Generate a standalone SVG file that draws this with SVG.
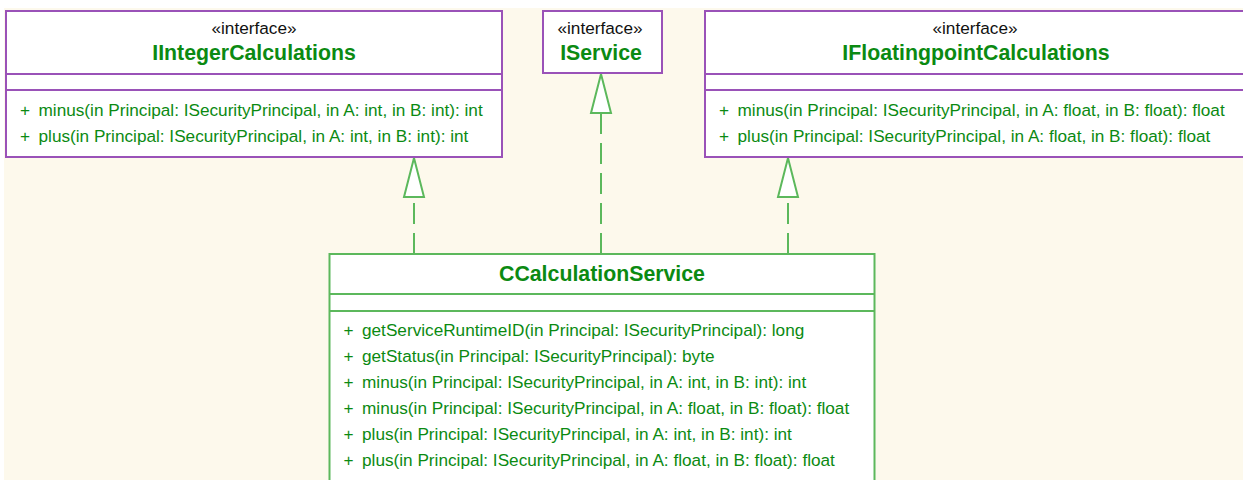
<svg xmlns="http://www.w3.org/2000/svg" width="1243" height="480" viewBox="0 0 1243 480">
  <style>
    .iface { fill: #ffffff; stroke: #9a52b8; stroke-width: 2; }
    .iface-line { stroke: #9a52b8; stroke-width: 2; }
    .cls { fill: #ffffff; stroke: #5cb85c; stroke-width: 2; }
    .cls-line { stroke: #5cb85c; stroke-width: 2; }
    .stereo { font-family: "Liberation Sans", Arial, sans-serif; font-size: 17.2px; fill: #111111; text-anchor: middle; }
    .title { font-family: "Liberation Sans", Arial, sans-serif; font-size: 21.3px; font-weight: bold; fill: #0b8a12; text-anchor: middle; }
    .op { font-family: "Liberation Sans", Arial, sans-serif; font-size: 17.2px; fill: #0b8a12; }
    .realize { fill: none; stroke: #5cb85c; stroke-width: 2; stroke-dasharray: 21 9; }
    .head { fill: #ffffff; stroke: #5cb85c; stroke-width: 2; stroke-linejoin: miter; }
  </style>

  <!-- canvas -->
  <rect x="0" y="0" width="1243" height="480" fill="#ffffff"/>
  <rect x="4" y="8" width="1239" height="472" fill="#fdf9ec"/>

  <!-- realization connectors (dashed, hollow triangle heads) -->
  <g id="connectors">
    <path class="realize" d="M414 254 V197"/>
    <polygon class="head" points="414,158 404,197 424,197"/>
    <path class="realize" d="M601 254 V113"/>
    <polygon class="head" points="601,74 591,113 611,113"/>
    <path class="realize" d="M788 254 V197"/>
    <polygon class="head" points="788,158 778,197 798,197"/>
  </g>

  <g id="IIntegerCalculations">
    <rect class="iface" x="6" y="11" width="496" height="146"/>
    <line class="iface-line" x1="6" y1="74" x2="502" y2="74"/>
    <line class="iface-line" x1="6" y1="90" x2="502" y2="90"/>
    <text class="stereo" x="254" y="34">«interface»</text>
    <text class="title" x="254" y="60">IIntegerCalculations</text>
    <text class="op" x="20" y="116">+</text>
    <text class="op" x="38.5" y="116">minus(in Principal: ISecurityPrincipal, in A: int, in B: int): int</text>
    <text class="op" x="20" y="142">+</text>
    <text class="op" x="38.5" y="142">plus(in Principal: ISecurityPrincipal, in A: int, in B: int): int</text>
  </g>

  <g id="IService">
    <rect class="iface" x="543" y="11" width="119" height="62"/>
    <text class="stereo" x="600" y="34">«interface»</text>
    <text class="title" x="601" y="60">IService</text>
  </g>

  <g id="IFloatingpointCalculations">
    <rect class="iface" x="705" y="11" width="545" height="146"/>
    <line class="iface-line" x1="705" y1="74" x2="1250" y2="74"/>
    <line class="iface-line" x1="705" y1="90" x2="1250" y2="90"/>
    <text class="stereo" x="975" y="34">«interface»</text>
    <text class="title" x="976" y="60">IFloatingpointCalculations</text>
    <text class="op" x="719" y="116">+</text>
    <text class="op" x="737.5" y="116">minus(in Principal: ISecurityPrincipal, in A: float, in B: float): float</text>
    <text class="op" x="719" y="142">+</text>
    <text class="op" x="737.5" y="142">plus(in Principal: ISecurityPrincipal, in A: float, in B: float): float</text>
  </g>

  <g id="CCalculationService">
    <rect class="cls" x="329.5" y="254" width="545" height="240"/>
    <line class="cls-line" x1="329.5" y1="294" x2="874.5" y2="294"/>
    <line class="cls-line" x1="329.5" y1="311" x2="874.5" y2="311"/>
    <text class="title" x="602" y="281">CCalculationService</text>
    <text class="op" x="343.5" y="336">+</text>
    <text class="op" x="362" y="336">getServiceRuntimeID(in Principal: ISecurityPrincipal): long</text>
    <text class="op" x="343.5" y="362">+</text>
    <text class="op" x="362" y="362">getStatus(in Principal: ISecurityPrincipal): byte</text>
    <text class="op" x="343.5" y="388">+</text>
    <text class="op" x="362" y="388">minus(in Principal: ISecurityPrincipal, in A: int, in B: int): int</text>
    <text class="op" x="343.5" y="414">+</text>
    <text class="op" x="362" y="414">minus(in Principal: ISecurityPrincipal, in A: float, in B: float): float</text>
    <text class="op" x="343.5" y="440">+</text>
    <text class="op" x="362" y="440">plus(in Principal: ISecurityPrincipal, in A: int, in B: int): int</text>
    <text class="op" x="343.5" y="466">+</text>
    <text class="op" x="362" y="466">plus(in Principal: ISecurityPrincipal, in A: float, in B: float): float</text>
  </g>
</svg>
